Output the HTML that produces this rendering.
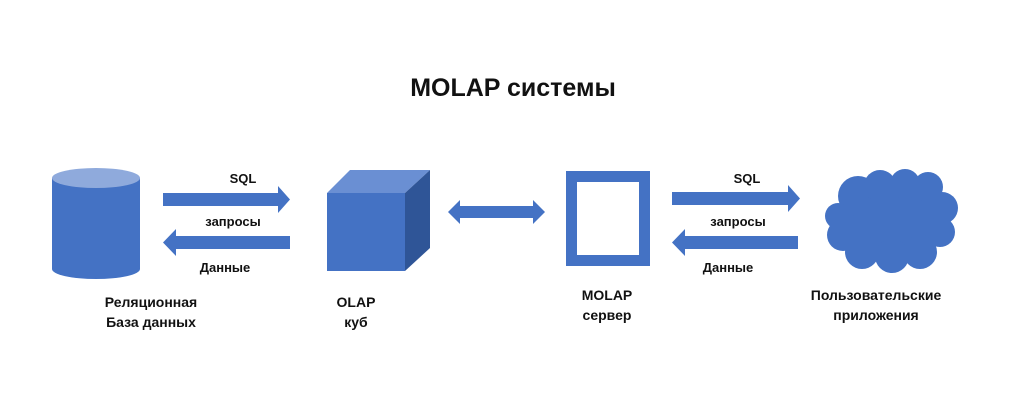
<!DOCTYPE html>
<html><head><meta charset="utf-8"><style>
html,body{margin:0;padding:0;background:#fff;}
svg{display:block}
text{font-family:"Liberation Sans",sans-serif;font-weight:bold;fill:#111;}
</style></head><body>
<svg width="1024" height="415" viewBox="0 0 1024 415">
<rect width="1024" height="415" fill="#fff"/>
<text x="513" y="96" font-size="25" text-anchor="middle">MOLAP системы</text>
<path d="M52 178 L52 269 A44 10 0 0 0 140 269 L140 178 Z" fill="#4472c4"/>
<ellipse cx="96" cy="178" rx="44" ry="10" fill="#8faadc"/>
<polygon points="163,193 278,193 278,186 290,199.5 278,213 278,206 163,206" fill="#4472c4"/>
<polygon points="290,236 176,236 176,229 163,242.5 176,256 176,249 290,249" fill="#4472c4"/>
<text x="243" y="183" font-size="13" text-anchor="middle">SQL</text>
<text x="233" y="226" font-size="13" text-anchor="middle">запросы</text>
<text x="225" y="272" font-size="13" text-anchor="middle">Данные</text>
<polygon points="327,193 350,170 430,170 405,193" fill="#6a8fd3"/>
<polygon points="405,193 430,170 430,248 405,271" fill="#2f5597"/>
<rect x="327" y="193" width="78" height="78" fill="#4472c4"/>
<polygon points="448,212 460,200 460,206 533,206 533,200 545,212 533,224 533,218 460,218 460,224" fill="#4472c4"/>
<rect x="571.5" y="176.5" width="73" height="84" fill="none" stroke="#4472c4" stroke-width="11"/>
<polygon points="672,192 788,192 788,185 800,198.5 788,212 788,205 672,205" fill="#4472c4"/>
<polygon points="798,236 685,236 685,229 672,242.5 685,256 685,249 798,249" fill="#4472c4"/>
<text x="747" y="183" font-size="13" text-anchor="middle">SQL</text>
<text x="738" y="226" font-size="13" text-anchor="middle">запросы</text>
<text x="728" y="272" font-size="13" text-anchor="middle">Данные</text>
<g fill="#4472c4">
<ellipse cx="890" cy="222" rx="55" ry="40"/>
<circle cx="858" cy="196" r="20"/>
<circle cx="880" cy="186" r="16"/>
<circle cx="905" cy="184" r="15"/>
<circle cx="928" cy="187" r="15"/>
<circle cx="942" cy="208" r="16"/>
<circle cx="940" cy="232" r="15"/>
<circle cx="920" cy="252" r="17"/>
<circle cx="892" cy="256" r="17"/>
<circle cx="862" cy="252" r="17"/>
<circle cx="843" cy="235" r="16"/>
<circle cx="838" cy="216" r="13"/>
</g>
<text x="151" y="307" font-size="14" text-anchor="middle">Реляционная</text>
<text x="151" y="327" font-size="14" text-anchor="middle">База данных</text>
<text x="356" y="307" font-size="14" text-anchor="middle">OLAP</text>
<text x="356" y="327" font-size="14" text-anchor="middle">куб</text>
<text x="607" y="300" font-size="14" text-anchor="middle">MOLAP</text>
<text x="607" y="320" font-size="14" text-anchor="middle">сервер</text>
<text x="876" y="300" font-size="14" text-anchor="middle">Пользовательские</text>
<text x="876" y="320" font-size="14" text-anchor="middle">приложения</text>
</svg>
</body></html>
